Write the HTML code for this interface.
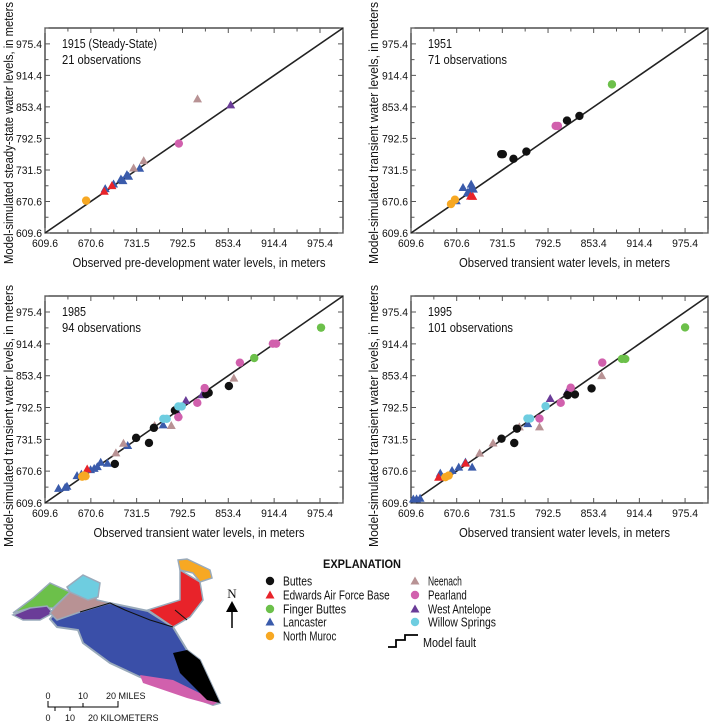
<!DOCTYPE html>
<html><head><meta charset="utf-8">
<style>
html,body{margin:0;padding:0;background:#fff;}
svg{display:block;font-family:"Liberation Sans Narrow","Liberation Sans",sans-serif;}
text{fill:#111;}
</style></head>
<body>
<svg id="fig" width="709" height="724" viewBox="0 0 709 724" xmlns="http://www.w3.org/2000/svg">
<g id="map">
  <path d="M50,619 L60,607 L110,603 L148,611 L173,627 L187,650 L200,660 L220,703 L213,705 L140,677 L110,663 L83,643 L78,630 L57,627 Z" fill="#3a4fa8" stroke="#9ab" stroke-width="2"/>
  <path d="M140,675 L173,680 L218,702 L213,705 L187,698 L143,683 Z" fill="#d160ad"/>
  <path d="M173,653 L187,650 L200,660 L220,703 L207,700 L180,673 Z" fill="#000"/>
  <path d="M148,610 L180,600 L180,570 L200,582 L203,600 L190,617 L173,627 Z" fill="#e8232a" stroke="#9ab" stroke-width="1.5"/>
  <path d="M178,560 L187,559 L210,570 L212,578 L200,582 L193,573 L180,570 Z" fill="#f7a823" stroke="#9ab" stroke-width="1.5"/>
  <path d="M13,613 L33,598 L50,583 L70,592 L53,608 L30,608 Z" fill="#6cc04a" stroke="#9ab" stroke-width="1.5"/>
  <path d="M13,615 L30,608 L47,606 L53,613 L40,620 L23,620 Z" fill="#6a3c98" stroke="#9ab" stroke-width="1.5"/>
  <path d="M50,613 L55,607 L70,592 L88,585 L97,600 L110,603 L80,612 L57,620 Z" fill="#b89294" stroke="#9ab" stroke-width="1.5"/>
  <path d="M67,587 L83,575 L100,583 L98,597 L88,600 L70,592 Z" fill="#6ecde0" stroke="#9ab" stroke-width="1.5"/>
  <path d="M110,603 L125,610 L150,620 L173,627 M80,612 L110,603 M187,620 L175,610" stroke="#111" stroke-width="1" fill="none"/>
  <text x="232" y="598" font-size="13" font-family="Liberation Serif,serif" text-anchor="middle">N</text>
  <path d="M232,628 L232,608" stroke="#000" stroke-width="1.5"/>
  <path d="M226,612 L232,601 L238,612 Z" fill="#000"/>
  <g>
    <path d="M48,701 L48,707 L118,707 L118,701 M83,703 L83,707 M55,707 L55,711 M70,707 L70,711" stroke="#000" stroke-width="1" fill="none"/>
    <text x="48" y="699" font-size="9" text-anchor="middle">0</text>
    <text x="83" y="699" font-size="9" text-anchor="middle">10</text>
    <text x="106" y="699" font-size="9">20 MILES</text>
    <text x="48" y="721" font-size="9" text-anchor="middle">0</text>
    <text x="70" y="721" font-size="9" text-anchor="middle">10</text>
    <text x="88" y="721" font-size="9">20 KILOMETERS</text>
  </g>
</g>
<g id="legend">
  <text x="323" y="568" font-size="12" font-weight="bold" textLength="78" lengthAdjust="spacingAndGlyphs">EXPLANATION</text>
</g>
</svg>
<script>
// Axis domain
const axisMin = 609.6, axisMax = 1006;
const tickValues = [609.6, 670.6, 731.5, 792.5, 853.4, 914.4, 975.4];
const tickLabels = ["609.6","670.6","731.5","792.5","853.4","914.4","975.4"];
const seriesNames = ["Buttes","Edwards Air Force Base","Finger Buttes","Lancaster","North Muroc","Neenach","Pearland","West Antelope","Willow Springs"];
const seriesColors = ["#111111","#e8232a","#6cc04a","#3a5bab","#f7a823","#b89294","#d160ad","#6a3c98","#6ecde0"];
const seriesShapes = ["c","t","c","t","c","t","c","t","c"];

// Panel 1915
const p1ButtesObs=[], p1ButtesSim=[];
const p1EdwardsObs=[688.4,698.6], p1EdwardsSim=[690.3,701.3];
const p1FingerObs=[], p1FingerSim=[];
const p1LancasterObs=[689.7,700.8,710.6,713.3,718.6,720.8,735.5], p1LancasterSim=[695.4,704.4,714.1,710.9,722.5,719.3,734.7];
const p1MurocObs=[664.3], p1MurocSim=[672.2];
const p1NeenachObs=[727.5,740.9,812.5], p1NeenachSim=[735.4,749.6,868.9];
const p1PearlandObs=[787.6], p1PearlandSim=[782.5];
const p1WestAntObs=[856.6], p1WestAntSim=[857.3];
const p1WillowObs=[], p1WillowSim=[];

// Panel 1951
const p2ButtesObs=[730.0,732.2,746.4,763.6,817.8,834.4], p2ButtesSim=[762,762,753,767.1,827,836];
const p2EdwardsObs=[692,689], p2EdwardsSim=[680.4,681];
const p2FingerObs=[877.8], p2FingerSim=[897];
const p2LancasterObs=[670,679,689.9,687.7,692.9,685,691], p2LancasterSim=[672,697.7,704.1,686.8,694.5,688,699];
const p2MurocObs=[663,668.2], p2MurocSim=[665.5,673.9];
const p2NeenachObs=[], p2NeenachSim=[];
const p2PearlandObs=[802.7,805.7], p2PearlandSim=[816.7,816.7];
const p2WestAntObs=[], p2WestAntSim=[];
const p2WillowObs=[], p2WillowSim=[];

// Panel 1985
const p3ButtesObs=[702.5,730.8,747.9,754.4,782.4,827.3,854.2,824], p3ButtesSim=[684.4,734.3,724.7,753.5,786.8,820.7,833.5,818];
const p3EdwardsObs=[665.7], p3EdwardsSim=[674.8];
const p3FingerObs=[887.9,976.8], p3FingerSim=[887.2,945.4];
const p3LancasterObs=[627.6,636.5,638.8,652.2,658,670.2,675,679.2,683.7,692.6,719.6,766.7], p3LancasterSim=[637.7,639.6,641.6,662.1,665,673.6,676,679.3,687.6,685.7,719.6,759.3];
const p3MurocObs=[659,661.2,663.5], p3MurocSim=[660,662.1,661];
const p3NeenachObs=[703.9,714,755.4,777.6,860.8], p3NeenachSim=[705.5,724,758,758,848.8];
const p3PearlandObs=[787,812.2,822,868.8,912.7,917.1], p3PearlandSim=[774,801.4,829.6,878.3,914.7,914.7];
const p3WestAntObs=[787,797,818.5], p3WestAntSim=[780.4,806,816.8];
const p3WillowObs=[767,771.5,787,791.5], p3WillowSim=[770.8,770.8,794.5,794.5];

// Panel 1995
const p4ButtesObs=[730.4,747.4,751,818.6,828.4,850.6], p4ButtesSim=[732.8,724.5,752,816.2,817.5,829];
const p4EdwardsObs=[682.3,646.4], p4EdwardsSim=[686,659];
const p4FingerObs=[891.1,895.6,975.4], p4FingerSim=[885.5,885.5,945.8];
const p4LancasterObs=[612.7,617,621.7,648.7,664.4,673.3,682.3,691.2,765.4], p4LancasterSim=[617.3,617.5,618.6,666.7,671.8,678.3,687.9,678.3,761.7];
const p4MurocObs=[655.4,659.9], p4MurocSim=[659,662.2];
const p4NeenachObs=[701.2,719.1,754.2,781.1,864.1], p4NeenachSim=[705.2,724.5,755.3,755.3,853.5];
const p4PearlandObs=[781.1,809.4,822.8,864.9], p4PearlandSim=[771.3,801.4,830.3,878.4];
const p4WestAntObs=[795.4,818], p4WestAntSim=[809.6,822.6];
const p4WillowObs=[765,768.6,789.2], p4WillowSim=[771.3,771.3,795];

const NS="http://www.w3.org/2000/svg";
const svg=document.getElementById('fig');
function el(tag,attrs,parent){const e=document.createElementNS(NS,tag);for(const k in attrs)e.setAttribute(k,attrs[k]);(parent||svg).appendChild(e);return e;}

const panels=[
 {L:45,R:343,T:28,B:233,cy:133,label:"1915 (Steady-State)",lw:95,n:"21 observations",nw:79,xt:"Observed pre-development water levels, in meters",yt:"Model-simulated steady-state water levels, in meters",ytx:9,
  obs:[p1ButtesObs,p1EdwardsObs,p1FingerObs,p1LancasterObs,p1MurocObs,p1NeenachObs,p1PearlandObs,p1WestAntObs,p1WillowObs],
  sim:[p1ButtesSim,p1EdwardsSim,p1FingerSim,p1LancasterSim,p1MurocSim,p1NeenachSim,p1PearlandSim,p1WestAntSim,p1WillowSim]},
 {L:411,R:708,T:28,B:233,cy:133,label:"1951",lw:24,n:"71 observations",nw:79,xt:"Observed transient water levels, in meters",yt:"Model-simulated transient water levels, in meters",ytx:374,
  obs:[p2ButtesObs,p2EdwardsObs,p2FingerObs,p2LancasterObs,p2MurocObs,p2NeenachObs,p2PearlandObs,p2WestAntObs,p2WillowObs],
  sim:[p2ButtesSim,p2EdwardsSim,p2FingerSim,p2LancasterSim,p2MurocSim,p2NeenachSim,p2PearlandSim,p2WestAntSim,p2WillowSim]},
 {L:45,R:343,T:296,B:503,cy:416,label:"1985",lw:24,n:"94 observations",nw:79,xt:"Observed transient water levels, in meters",yt:"Model-simulated transient water levels, in meters",ytx:9,
  obs:[p3ButtesObs,p3EdwardsObs,p3FingerObs,p3LancasterObs,p3MurocObs,p3NeenachObs,p3PearlandObs,p3WestAntObs,p3WillowObs],
  sim:[p3ButtesSim,p3EdwardsSim,p3FingerSim,p3LancasterSim,p3MurocSim,p3NeenachSim,p3PearlandSim,p3WestAntSim,p3WillowSim]},
 {L:411,R:708,T:296,B:503,cy:416,label:"1995",lw:24,n:"101 observations",nw:85,xt:"Observed transient water levels, in meters",yt:"Model-simulated transient water levels, in meters",ytx:374,
  obs:[p4ButtesObs,p4EdwardsObs,p4FingerObs,p4LancasterObs,p4MurocObs,p4NeenachObs,p4PearlandObs,p4WestAntObs,p4WillowObs],
  sim:[p4ButtesSim,p4EdwardsSim,p4FingerSim,p4LancasterSim,p4MurocSim,p4NeenachSim,p4PearlandSim,p4WestAntSim,p4WillowSim]}
];

function marker(shape,x,y,color,parent){
  if(shape==="c") return el('circle',{cx:x,cy:y,r:4.2,fill:color},parent);
  return el('path',{d:`M${x-4.5},${y+3.5} L${x},${y-4.5} L${x+4.5},${y+3.5} Z`,fill:color},parent);
}

panels.forEach((p,pi)=>{
  const g=el('g',{});
  
  
  const xs=v=>p.L+(v-axisMin)/(axisMax-axisMin)*(p.R-p.L);
  const ys=v=>p.B-(v-axisMin)/(axisMax-axisMin)*(p.B-p.T);
  const frame=el('rect',{x:p.L,y:p.T,width:p.R-p.L,height:p.B-p.T,fill:"none",stroke:"#222","stroke-width":1.2},g);
  
  
  let d="";
  for(let i=0;i<tickValues.length;i++){
    const v=tickValues[i];
    [v, v+30.48].forEach((t,k)=>{
      if(t>=axisMax) return;
      const len=k===0?5:3.5;
      const x=xs(t), y=ys(t);
      d+=`M${x},${p.B} L${x},${p.B-len} M${x},${p.T} L${x},${p.T+len} M${p.L},${y} L${p.L+len},${y} M${p.R},${y} L${p.R-len},${y} `;
    });
  }
  const tk=el('path',{d:d,stroke:"#555","stroke-width":1,fill:"none"},g);
  
  
  tickValues.forEach((v,i)=>{
    const tx=el('text',{x:xs(v),y:p.B+14,"font-size":11,"text-anchor":"middle",textLength:26,lengthAdjust:"spacingAndGlyphs"},g);
    tx.textContent=tickLabels[i];
    
    
    const ty=el('text',{x:p.L-3,y:ys(v)+4,"font-size":11,"text-anchor":"end",textLength:26,lengthAdjust:"spacingAndGlyphs"},g);
    ty.textContent=tickLabels[i];
    
    
  });
  const xt=el('text',{x:(p.L+p.R)/2+5,y:p.B+34,"font-size":13,"text-anchor":"middle",textLength:p.xt.length>45?253:211,lengthAdjust:"spacingAndGlyphs"},g);
  xt.textContent=p.xt;
  
  
  const cy=p.cy;
  const yt=el('text',{x:p.ytx,y:cy,"font-size":13,"text-anchor":"middle",transform:`rotate(-90 ${p.ytx} ${cy})`,dy:4,textLength:262,lengthAdjust:"spacingAndGlyphs"},g);
  yt.textContent=p.yt;
  
  
  const a1=el('text',{x:p.L+17,y:p.T+20,"font-size":13,textLength:p.lw,lengthAdjust:"spacingAndGlyphs"},g);
  a1.textContent=p.label;
  
  
  const a2=el('text',{x:p.L+17,y:p.T+36,"font-size":13,textLength:p.nw,lengthAdjust:"spacingAndGlyphs"},g);
  a2.textContent=p.n;
  
  
  const ln=el('line',{x1:xs(axisMin),y1:ys(axisMin),x2:xs(axisMax),y2:ys(axisMax),stroke:"#222","stroke-width":1.6},g);
  
  
  const order=[3,5,7,1,0,6,8,2,4];
  order.forEach(s=>{
    p.obs[s].forEach((v,i)=>{
      const m=marker(seriesShapes[s],xs(v),ys(p.sim[s][i]),seriesColors[s],g);
      
      
    });
  });
});

// legend
const lg=document.getElementById('legend');
const legendX=[270,270,270,270,270,415,415,415,415];
const legendY=[581,595,609,622,636,581,595,609,622];
seriesNames.forEach((n,s)=>{
  const m=marker(seriesShapes[s],legendX[s],legendY[s],seriesColors[s],lg);
  
  
  const t=el('text',{x:legendX[s]+13,y:legendY[s]+4.5,"font-size":12.5,textLength:(n.length*4.85).toFixed(1),lengthAdjust:"spacingAndGlyphs"},lg);
  t.textContent=n;
  
  
});
const fl=el('path',{d:"M388,647 L396,647 L396,640 L405,640 L405,635 L418,635",stroke:"#000","stroke-width":1.8,fill:"none"},lg);


const ft=el('text',{x:423,y:647,"font-size":12.5,textLength:53,lengthAdjust:"spacingAndGlyphs"},lg);
ft.textContent="Model fault";


</script>
</body></html>
